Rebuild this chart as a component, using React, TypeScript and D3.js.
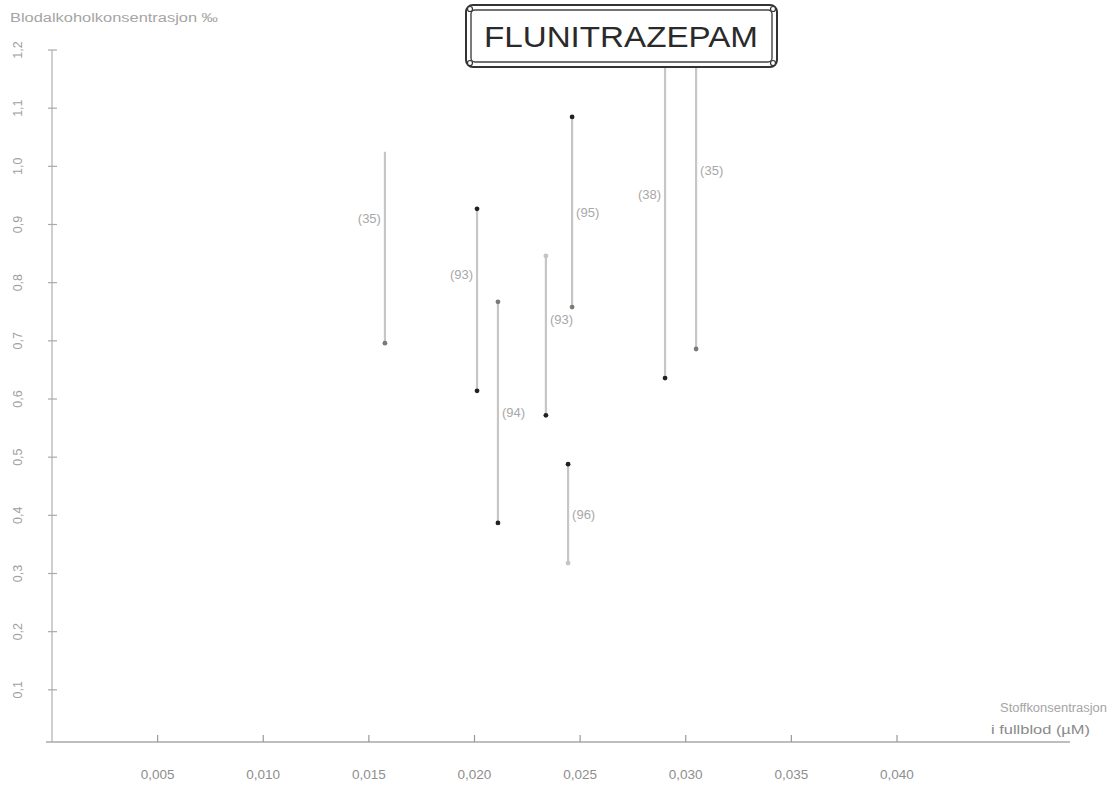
import React from "react";
import * as d3 from "d3";

// Data: drug concentration (µM) with blood alcohol range (‰) per case group
const groupLabels = ["(35)", "(93)", "(94)", "(93)", "(95)", "(96)", "(38)", "(35)"];
const drugConc = [0.01576, 0.02012, 0.02111, 0.02338, 0.02462, 0.02443, 0.02902, 0.03049];
const alcoholHigh = [1.025, 0.927, 0.767, 0.846, 1.085, 0.488, 1.169, 1.169];
const alcoholLow = [0.696, 0.614, 0.387, 0.572, 0.758, 0.318, 0.636, 0.686];
const labelAlcohol = [0.911, 0.815, 0.578, 0.737, 0.921, 0.402, 0.952, 0.994];
const labelSide = ["left", "left", "right", "right", "right", "right", "left", "right"];
// marker shade at top / bottom end: 0 none, 1 light, 2 gray, 3 dark
const topMarker = [0, 3, 2, 1, 3, 3, 0, 0];
const bottomMarker = [2, 3, 3, 3, 2, 1, 3, 2];

const xTicks = [0.005, 0.01, 0.015, 0.02, 0.025, 0.03, 0.035, 0.04];
const yTicks = [0.1, 0.2, 0.3, 0.4, 0.5, 0.6, 0.7, 0.8, 0.9, 1.0, 1.1, 1.2];

const title = "FLUNITRAZEPAM";
const yTitle = "Blodalkoholkonsentrasjon ‰";
const xTitle1 = "Stoffkonsentrasjon";
const xTitle2 = "i fullblod (µM)";

const W = 1110;
const H = 787;

export default function App() {
  const x = d3.scaleLinear().domain([0, 0.04]).range([52, 897]);
  const y = d3.scaleLinear().domain([0, 1.2]).range([748, 50]);
  const fmtX = (v: number) => d3.format(".3f")(v).replace(".", ",");
  const fmtY = (v: number) => d3.format(".1f")(v).replace(".", ",");
  const shade = ["none", "#c4c4c4", "#7a7a7a", "#222"];
  const font = "Liberation Sans, Arial, sans-serif";
  const axisY = 742;

  return (
    <svg
      width={W}
      height={H}
      style={{ position: "absolute", left: 0, top: 0, background: "#fff" }}
      fontFamily={font}
    >
      <rect width={W} height={H} fill="#fff" />
      {/* Y axis */}
      <line x1={x(0)} x2={x(0)} y1={y(1.2)} y2={axisY} stroke="#b5b5b5" strokeWidth={1.3} />
      {yTicks.map((t) => (
        <g key={"yt" + t}>
          <line x1={x(0) - 4} x2={x(0) + 5} y1={y(t)} y2={y(t)} stroke="#aaa" strokeWidth={1.2} />
          <text
            transform={`translate(${22},${y(t)}) rotate(-90)`}
            textAnchor="middle"
            fontSize={12.5}
            fill="#a0a0a0"
          >
            {fmtY(t)}
          </text>
        </g>
      ))}
      {/* X axis */}
      <line x1={x(0) - 6} x2={1070} y1={axisY} y2={axisY} stroke="#a8a8a8" strokeWidth={1.3} />
      {xTicks.map((t) => (
        <g key={"xt" + t}>
          <line x1={x(t)} x2={x(t)} y1={axisY} y2={axisY - 7} stroke="#999" strokeWidth={1.2} />
          <text x={x(t)} y={779} textAnchor="middle" fontSize={13.5} fill="#8e8e8e">
            {fmtX(t)}
          </text>
        </g>
      ))}
      {/* axis titles */}
      <text x={10} y={22} fontSize={12} fill="#a5a5a5" textLength={208} lengthAdjust="spacingAndGlyphs">
        {yTitle}
      </text>
      <text x={1000} y={712} fontSize={12} fill="#a5a5a5" textLength={107} lengthAdjust="spacingAndGlyphs">
        {xTitle1}
      </text>
      <text x={991} y={734} fontSize={12} fill="#8a8a8a" textLength={99} lengthAdjust="spacingAndGlyphs">
        {xTitle2}
      </text>

      {/* range segments */}
      {drugConc.map((c, i) => {
        const cx = x(c);
        const yTop = y(alcoholHigh[i]);
        const yBot = y(alcoholLow[i]);
        const left = labelSide[i] === "left";
        return (
          <g key={"seg" + i}>
            <line x1={cx} x2={cx} y1={yTop} y2={yBot} stroke="#c6c6c6" strokeWidth={2.2} />
            {topMarker[i] > 0 && (
              <circle cx={cx} cy={yTop} r={2.4} fill={shade[topMarker[i]]} />
            )}
            {bottomMarker[i] > 0 && (
              <circle cx={cx} cy={yBot} r={2.4} fill={shade[bottomMarker[i]]} />
            )}
            <text
              x={left ? cx - 4 : cx + 4}
              y={y(labelAlcohol[i]) + 5}
              textAnchor={left ? "end" : "start"}
              fontSize={13}
              fill="#a8a8a8"
            >
              {groupLabels[i]}
            </text>
          </g>
        );
      })}

      {/* title box */}
      <g>
        <rect x={466} y={5} width={311} height={62} rx={7} fill="#fff" stroke="#333" strokeWidth={2} />
        <rect x={471} y={10} width={301} height={52} rx={4} fill="#fff" stroke="#444" strokeWidth={1.4} />
        <circle cx={470} cy={9} r={2.5} fill="#fff" stroke="#333" strokeWidth={1.2} />
        <circle cx={773} cy={9} r={2.5} fill="#fff" stroke="#333" strokeWidth={1.2} />
        <circle cx={470} cy={63} r={2.5} fill="#fff" stroke="#333" strokeWidth={1.2} />
        <circle cx={773} cy={63} r={2.5} fill="#fff" stroke="#333" strokeWidth={1.2} />
        <text
          x={621}
          y={47}
          textAnchor="middle"
          fontSize={30}
          fill="#2a2a2a"
          textLength={274}
          lengthAdjust="spacingAndGlyphs"
        >
          {title}
        </text>
      </g>
    </svg>
  );
}
